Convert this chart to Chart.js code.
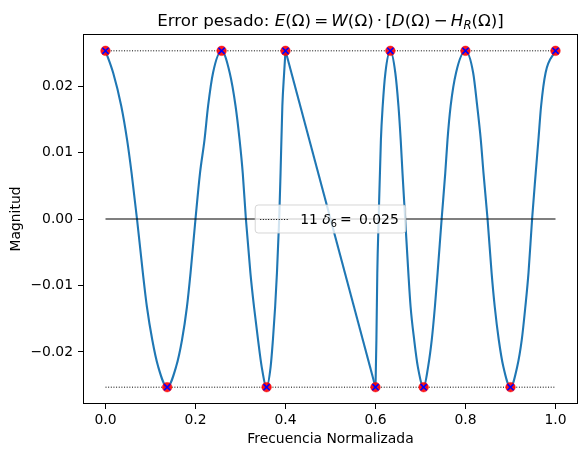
<!DOCTYPE html>
<html><head><meta charset="utf-8">
<script src="https://cdn.jsdelivr.net/npm/chart.js@4"></script>
<style>html,body{margin:0;padding:0;background:#fff}canvas{display:block}</style>
</head><body>
<canvas id="c" width="587" height="457" style="width:587px;height:457px"></canvas>
<script>
// ---- data ----
const passX = [0, 0.017, 0.035, 0.048, 0.058, 0.070, 0.083, 0.092, 0.104, 0.117, 0.137,
  0.157, 0.170, 0.181, 0.189, 0.200, 0.210, 0.220, 0.228, 0.239, 0.258,
  0.276, 0.289, 0.298, 0.305, 0.312, 0.322, 0.330, 0.339, 0.347, 0.358,
  0.367, 0.372, 0.377, 0.381, 0.386, 0.389, 0.393, 0.397, 0.400];
const passY = [0.0253, 0.0220, 0.0170, 0.0119, 0.0069, 0.0, -0.0081, -0.0132, -0.0182, -0.0222, -0.0253,
  -0.0222, -0.0182, -0.0132, -0.0081, 0.0, 0.0069, 0.0119, 0.0170, 0.0220, 0.0253,
  0.0220, 0.0170, 0.0119, 0.0069, 0.0, -0.0081, -0.0132, -0.0182, -0.0222, -0.0253,
  -0.0222, -0.0182, -0.0132, -0.0081, 0.0, 0.0069, 0.0170, 0.0220, 0.0253];
const stopX = [0.600, 0.602, 0.604, 0.607, 0.612, 0.616, 0.622, 0.633,
  0.644, 0.651, 0.656, 0.660, 0.666, 0.673, 0.678, 0.686, 0.694, 0.707,
  0.717, 0.725, 0.732, 0.738, 0.747, 0.755, 0.760, 0.767, 0.779, 0.800,
  0.817, 0.826, 0.834, 0.840, 0.849, 0.858, 0.865, 0.874, 0.884, 0.900,
  0.915, 0.925, 0.933, 0.940, 0.948, 0.956, 0.962, 0.968, 0.978, 1.000];
const stopY = [-0.0253, -0.0182, -0.0081, 0.0, 0.0119, 0.0170, 0.0220, 0.0253,
  0.0220, 0.0170, 0.0119, 0.0069, 0.0, -0.0081, -0.0132, -0.0182, -0.0222, -0.0253,
  -0.0222, -0.0182, -0.0132, -0.0081, 0.0, 0.0069, 0.0119, 0.0170, 0.0220, 0.0253,
  0.0220, 0.0170, 0.0119, 0.0069, 0.0, -0.0081, -0.0132, -0.0182, -0.0222, -0.0253,
  -0.0222, -0.0182, -0.0132, -0.0081, 0.0, 0.0069, 0.0119, 0.0170, 0.0220, 0.0253];
const extX = [0, 0.137, 0.258, 0.358, 0.400, 0.600, 0.633, 0.707, 0.800, 0.900, 1.000];
const extY = [0.0253, -0.0253, 0.0253, -0.0253, 0.0253, -0.0253, 0.0253, -0.0253, 0.0253, -0.0253, 0.0253];
const delta = 0.0253;
const bandX = [0, 1];
const xTicks = [0, 0.2, 0.4, 0.6, 0.8, 1.0];
const yTicks = [-0.02, -0.01, 0.0, 0.01, 0.02];
const legendCount = '11';
const legendIndex = '6';
const legendValue = '0.025';

// ---- build ----
const pts = (xs, ys) => xs.map((x, i) => ({x, y: ys[i]}));
const FONT = 'DejaVu Sans';
const FS = 13.9;
const C0 = '#1f77b4';

const framePlugin = {
  id: 'frame',
  afterDatasetsDraw(chart) {
    const {ctx, chartArea: a} = chart;
    ctx.save();
    ctx.strokeStyle = '#000';
    ctx.lineWidth = 1;
    ctx.strokeRect(Math.round(a.left) + 0.5, Math.round(a.top) + 0.5,
      Math.round(a.right - a.left) - 1, Math.round(a.bottom - a.top) - 1);
    ctx.restore();
  }
};

function partFont(p, size) {
  let fs = size, dy = 0, style = '';
  if (p.s === 'i') style = 'italic ';
  if (p.s === 'sub') { style = 'italic '; fs = size * 0.7; dy = size * 0.22; }
  if (p.s === 'subn') { fs = size * 0.7; dy = size * 0.22; }
  return {font: style + fs + 'px "' + FONT + '"', dy};
}
function measureParts(ctx, parts, size) {
  let w = 0;
  for (const p of parts) {
    if (p.gap !== undefined) { w += p.gap; continue; }
    ctx.font = partFont(p, size).font;
    w += ctx.measureText(p.t).width;
  }
  return w;
}
function drawParts(ctx, parts, x, y, size) {
  let cx = x;
  for (const p of parts) {
    if (p.gap !== undefined) { cx += p.gap; continue; }
    const f = partFont(p, size);
    ctx.font = f.font;
    ctx.fillText(p.t, cx, y + f.dy);
    cx += ctx.measureText(p.t).width;
  }
  return cx - x;
}

const G = 3.2;
const titleParts = [
  {t: 'Error pesado: ', s: 'n'},
  {t: 'E', s: 'i'}, {t: '(Ω)', s: 'n'}, {gap: G}, {t: '=', s: 'n'}, {gap: G},
  {t: 'W', s: 'i'}, {t: '(Ω)', s: 'n'}, {gap: G}, {t: '·', s: 'n'}, {gap: G},
  {t: '[', s: 'n'}, {t: 'D', s: 'i'}, {t: '(Ω)', s: 'n'}, {gap: G}, {t: '−', s: 'n'}, {gap: G},
  {t: 'H', s: 'i'}, {t: 'R', s: 'sub'}, {t: '(Ω)]', s: 'n'}
];

const titlePlugin = {
  id: 'mtitle',
  afterDraw(chart) {
    const {ctx, chartArea: a} = chart;
    const size = 16.7;
    ctx.save();
    ctx.fillStyle = '#000';
    ctx.textBaseline = 'alphabetic';
    ctx.textAlign = 'left';
    const w = measureParts(ctx, titleParts, size);
    const cx = (a.left + a.right) / 2;
    drawParts(ctx, titleParts, cx - w / 2, a.top - 8.3, size);
    ctx.restore();
  }
};

const legendPlugin = {
  id: 'mlegend',
  afterDraw(chart) {
    const {ctx, chartArea: a} = chart;
    const parts = [
      {t: legendCount + ' ', s: 'n'}, {t: 'δ', s: 'i'}, {t: legendIndex, s: 'subn'},
      {gap: 3}, {t: '=', s: 'n'}, {gap: 3}, {t: ' ' + legendValue, s: 'n'}
    ];
    ctx.save();
    const tw = measureParts(ctx, parts, FS);
    const lineW = 28, gap = 12, padX = 5;
    const boxW = padX + lineW + gap + tw + padX + 2;
    const boxH = 28;
    const cx = (a.left + a.right) / 2, cy = (a.top + a.bottom) / 2;
    const bx = cx - boxW / 2, by = cy - boxH / 2;
    ctx.beginPath();
    const r = 3;
    ctx.moveTo(bx + r, by);
    ctx.arcTo(bx + boxW, by, bx + boxW, by + boxH, r);
    ctx.arcTo(bx + boxW, by + boxH, bx, by + boxH, r);
    ctx.arcTo(bx, by + boxH, bx, by, r);
    ctx.arcTo(bx, by, bx + boxW, by, r);
    ctx.closePath();
    ctx.fillStyle = 'rgba(255,255,255,0.8)';
    ctx.fill();
    ctx.strokeStyle = 'rgba(204,204,204,0.8)';
    ctx.lineWidth = 1;
    ctx.stroke();
    ctx.beginPath();
    ctx.setLineDash([1, 1.65]);
    ctx.strokeStyle = '#000';
    ctx.moveTo(bx + padX, cy + 0.5);
    ctx.lineTo(bx + padX + lineW, cy + 0.5);
    ctx.stroke();
    ctx.setLineDash([]);
    ctx.fillStyle = '#000';
    ctx.textBaseline = 'alphabetic';
    ctx.textAlign = 'left';
    drawParts(ctx, parts, bx + padX + lineW + gap, cy + 4.5, FS);
    ctx.restore();
  }
};

const lineDs = (data, extra) => Object.assign({
  data, showLine: true, pointRadius: 0, pointHoverRadius: 0, fill: false
}, extra);

new Chart(document.getElementById('c'), {
  type: 'scatter',
  data: {
    datasets: [
      lineDs(pts(passX, passY), {borderColor: C0, borderWidth: 2.1, cubicInterpolationMode: 'monotone', order: 6}),
      lineDs([{x: passX[passX.length - 1], y: passY[passY.length - 1]}, {x: stopX[0], y: stopY[0]}],
        {borderColor: C0, borderWidth: 2.1, tension: 0, order: 6}),
      lineDs(pts(stopX, stopY), {borderColor: C0, borderWidth: 2.1, cubicInterpolationMode: 'monotone', order: 6}),
      lineDs(bandX.map(x => ({x, y: delta})), {borderColor: '#000', borderWidth: 1, borderDash: [1, 1.65], order: 4}),
      lineDs(bandX.map(x => ({x, y: -delta})), {borderColor: '#000', borderWidth: 1, borderDash: [1, 1.65], order: 4}),
      lineDs(bandX.map(x => ({x, y: 0})), {borderColor: '#000', borderWidth: 1.2, order: 4}),
      {data: pts(extX, extY), showLine: false, pointRadius: 4.8, pointBackgroundColor: 'rgba(255,0,0,0.9)',
        pointBorderColor: 'rgba(255,0,0,0.45)', pointBorderWidth: 1, order: 2},
      {data: pts(extX, extY), showLine: false, pointStyle: 'crossRot', pointRadius: 4.4,
        pointBorderColor: '#0000ff', pointBorderWidth: 1.6, order: 1}
    ]
  },
  options: {
    responsive: false,
    devicePixelRatio: 1,
    animation: false,
    events: [],
    layout: {padding: {top: 34, right: 9, bottom: 0, left: 0}},
    plugins: {legend: {display: false}, title: {display: false}, tooltip: {enabled: false}},
    scales: {
      x: {
        type: 'linear', min: -0.05, max: 1.05,
        afterBuildTicks: s => { s.ticks = xTicks.map(v => ({value: v})); },
        afterFit: s => { s.height = 53; },
        ticks: {color: '#000', font: {family: FONT, size: FS}, padding: 3,
          callback: v => v.toFixed(1), maxRotation: 0, autoSkip: false},
        grid: {drawOnChartArea: false, drawTicks: true, tickLength: 5, color: '#000', lineWidth: 1},
        border: {display: false},
        title: {display: true, text: 'Frecuencia Normalizada', color: '#000',
          font: {family: FONT, size: FS}, padding: {top: 0, bottom: 9}}
      },
      y: {
        type: 'linear', min: -0.02783, max: 0.02783,
        afterBuildTicks: s => { s.ticks = yTicks.map(v => ({value: v})); },
        afterFit: s => { s.width = 83; },
        ticks: {color: '#000', font: {family: FONT, size: FS}, padding: 5,
          callback: v => (v < 0 ? '\u2212' : '') + Math.abs(v).toFixed(2), autoSkip: false},
        grid: {drawOnChartArea: false, drawTicks: true, tickLength: 5, color: '#000', lineWidth: 1},
        border: {display: false},
        title: {display: true, text: 'Magnitud', color: '#000',
          font: {family: FONT, size: FS}, padding: {top: 8.5, bottom: 0}}
      }
    }
  },
  plugins: [framePlugin, titlePlugin, legendPlugin]
});
</script>
</body></html>
